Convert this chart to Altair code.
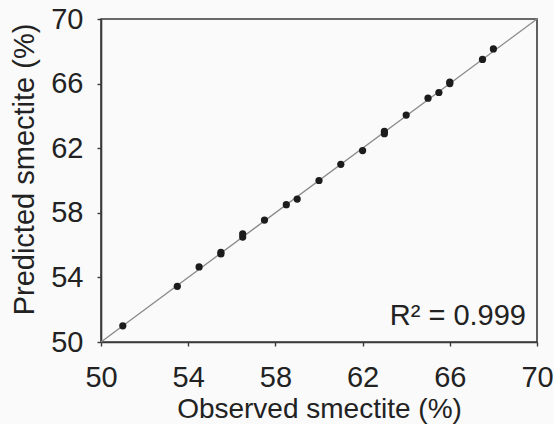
import altair as alt
import pandas as pd

observed = [51, 53.5, 54.5, 55.5, 55.5, 56.5, 56.5, 57.5, 58.5, 59, 60, 61, 62,
            63, 63, 64, 65, 65.5, 66, 66, 67.5, 68]
predicted = [51, 53.45, 54.65, 55.45, 55.55, 56.5, 56.7, 57.55, 58.5, 58.85, 60,
             61, 61.85, 62.9, 63.05, 64.05, 65.1, 65.45, 66.0, 66.1, 67.5, 68.15]
line_x = [50, 70]
line_y = [50, 70]
tick_values = [50, 54, 58, 62, 66, 70]
r2_label = "R² = 0.999"

pts = pd.DataFrame({"obs": observed, "pred": predicted})
ln = pd.DataFrame({"obs": line_x, "pred": line_y})

FONT = "Liberation Sans"
xscale = alt.Scale(domain=[50, 70], nice=False, zero=False)
yscale = alt.Scale(domain=[50, 70], nice=False, zero=False)

xaxis = alt.Axis(values=tick_values, title="Observed smectite (%)", grid=False,
                 tickSize=4, labelPadding=17, labelFontSize=29, titleFontSize=28,
                 titleFontWeight="normal", titleBaseline="alphabetic", titleY=75,
                 labelFlush=False)
yaxis = alt.Axis(values=tick_values, title="Predicted smectite (%)", grid=False,
                 tickSize=4, labelPadding=14, labelFontSize=29, titleFontSize=29,
                 titleFontWeight="normal", titleBaseline="alphabetic", titleX=-68,
                 titleY=150, titleAngle=270, labelFlush=False)

line = alt.Chart(ln).mark_line(color="#8a8a8a", strokeWidth=1.3).encode(
    x=alt.X("obs:Q", scale=xscale, axis=xaxis),
    y=alt.Y("pred:Q", scale=yscale, axis=yaxis),
)

points = alt.Chart(pts).mark_point(filled=True, shape="circle", size=52,
                                   color="#1c1c1c", opacity=1).encode(
    x=alt.X("obs:Q", scale=xscale),
    y=alt.Y("pred:Q", scale=yscale),
)

r2 = alt.Chart(pd.DataFrame({"t": [r2_label]})).mark_text(
    font=FONT, fontSize=29, align="right", baseline="alphabetic", color="#222222"
).encode(x=alt.value(425), y=alt.value(306), text="t:N")

chart = (line + points + r2).properties(
    width=436, height=323,
    autosize=alt.AutoSizeParams(type="none"),
    padding={"left": 101, "top": 19, "right": 17, "bottom": 82},
    background="#fafafa",
).configure_view(
    stroke="#3a3a3a", strokeWidth=1.6, fill="#fafafa"
).configure_axis(
    labelFont=FONT, titleFont=FONT, labelColor="#222222", titleColor="#222222",
    domainColor="#3a3a3a", domainWidth=1.6, tickColor="#3a3a3a", tickWidth=1.4,
)

chart.save("out.html", embed_options={"renderer": "svg", "actions": False})
